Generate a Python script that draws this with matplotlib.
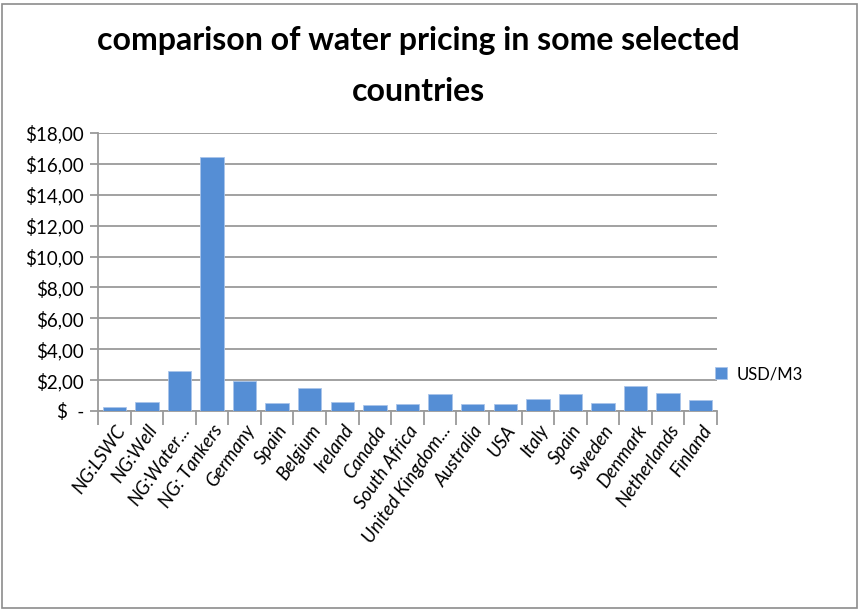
import matplotlib.pyplot as plt
from matplotlib.patches import Rectangle
import numpy as np

# -----------------------------
# DATA
# -----------------------------
countries = [
    "NG:LSWC", "NG:Well", "NG:Water...", "NG: Tankers", "Germany", "Spain",
    "Belgium", "Ireland", "Canada", "South Africa", "United Kingdom...",
    "Australia", "USA", "Italy", "Spain", "Sweden", "Denmark",
    "Netherlands", "Finland",
]
usd_per_m3 = [
    0.28, 0.60, 2.59, 16.45, 1.97, 0.54, 1.51, 0.60, 0.37, 0.45, 1.10,
    0.45, 0.45, 0.78, 1.10, 0.54, 1.60, 1.19, 0.69,
]
yticks = [0, 2, 4, 6, 8, 10, 12, 14, 16, 18]

FONT = ["Lato", "DejaVu Sans"]
BLUE = "#558ed5"
GRID = "#9a9a9a"

# -----------------------------
# FIGURE
# -----------------------------
fig = plt.figure(figsize=(8.65, 6.12), dpi=100)
ax = fig.add_axes([98 / 865, 1 - 411 / 612, (717 - 98) / 865, (411 - 133) / 612])

x = np.arange(len(countries))
ax.bar(x, usd_per_m3, width=0.72, color=BLUE, edgecolor="#a9c4ea",
       linewidth=0.6, label="USD/M3", zorder=3)

ax.set_xlim(-0.5, len(countries) - 0.5)
ax.set_ylim(0, 18)
ax.set_yticks(yticks)
ax.set_yticklabels(["$  -" if v == 0 else f"${v},00" for v in yticks],
                   family=FONT, fontsize=13.5)
ax.grid(axis="y", color=GRID, linewidth=1.3, zorder=0)

ax.set_xticks(x)
ax.set_xticklabels(countries, rotation=55, ha="right", rotation_mode="anchor",
                   family=FONT, fontsize=13.5, style="italic")
# category separators below the axis
ax.set_xticks(np.arange(len(countries) + 1) - 0.5, minor=True)
ax.tick_params(axis="x", which="major", length=0, pad=8)
ax.tick_params(axis="x", which="minor", length=10, color=GRID, width=1.3)
ax.tick_params(axis="y", length=6, color=GRID, width=1.3, pad=4)

for side in ["top", "right"]:
    ax.spines[side].set_visible(False)
ax.spines["left"].set_color(GRID)
ax.spines["bottom"].set_color(GRID)
ax.spines["left"].set_linewidth(1.3)
ax.spines["bottom"].set_linewidth(1.3)

fig.text(0.484, 1 - 66 / 612, "comparison of water pricing in some selected\ncountries",
         ha="center", va="center", family=FONT, fontsize=23, fontweight="bold",
         linespacing=1.9)

fig.legend(loc="center left", bbox_to_anchor=(700 / 865, 1 - 374 / 612),
           frameon=False, prop={"family": FONT, "size": 12},
           handlelength=0.7, handleheight=0.7, handletextpad=0.6)

# outer chart border
fig.patches.append(Rectangle((2 / 865, 4 / 612), 855 / 865, 604 / 612,
                             transform=fig.transFigure, fill=False,
                             edgecolor="#8c8c8c", linewidth=1.2))

plt.savefig("out.png", dpi=100)
